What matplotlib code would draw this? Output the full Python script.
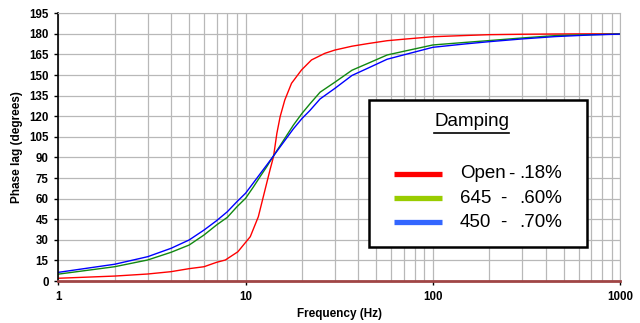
import matplotlib
matplotlib.use('Agg')
import matplotlib.pyplot as plt
from matplotlib.patches import Rectangle
from matplotlib.ticker import FixedLocator, NullFormatter
from matplotlib import font_manager

# valores
freq_open = [1, 2, 3, 4, 5, 6, 7, 7.8, 9.1, 10.6, 11.7, 12.7, 13.5, 14.1, 14.7, 15.3,
             16.2, 17.6, 19.9, 22.5, 26.5, 30, 37, 45, 57, 70, 100, 150, 200, 300,
             450, 700, 1000]
lag_open = [2.0, 3.6, 5.1, 6.8, 9.0, 10.4, 13.6, 15.3, 21.3, 32.3, 46.8, 66.3, 80.8, 90.5,
            107.6, 119.7, 131.8, 144.0, 153.7, 161.0, 165.8, 168.2, 171.0, 172.9, 175.0,
            176.1, 177.9, 178.8, 179.4, 179.7, 179.9, 180.0, 180.0]

freq = [1, 2, 3, 4, 5, 6, 7, 8, 9, 10, 11, 12, 13, 14, 15, 16, 18, 20, 22, 25,
        30, 37, 45, 57, 70, 100, 150, 200, 300, 450, 700, 1000]
lag_645 = [5.0, 10.4, 15.3, 20.9, 26.2, 33.5, 40.8, 46.4, 54.1, 60.2, 68.4, 76.3, 83.4, 90.5,
           96.8, 102.7, 113.5, 122.0, 128.8, 137.5, 144.8, 153.5, 158.5, 164.6, 167.3,
           171.9, 173.8, 175.1, 177.0, 178.7, 179.4, 179.9]
lag_450 = [6.3, 12.2, 17.7, 23.8, 29.9, 37.1, 43.9, 50.5, 57.8, 63.9, 71.4, 78.3, 84.6, 90.5,
           96.1, 101.3, 110.8, 118.3, 124.0, 132.6, 140.3, 149.7, 155.0, 161.5, 164.7,
           170.2, 172.7, 174.3, 176.3, 178.0, 179.2, 179.8]

names = ['Open', '645', '450']
damping = ['.18%', '.60%', '.70%']
line_colors = ['#ff0000', '#118811', '#0000ff']
key_colors = ['#ff0000', '#99cc00', '#3366ff']

y_ticks = list(range(0, 196, 15))
x_major = [1, 10, 100, 1000]
x_minor = [m * d for d in (1, 10, 100) for m in range(2, 10)]

# fuente estrecha si existe, si no Liberation Sans un poco mas chica
installed = {f.name for f in font_manager.fontManager.ttflist}
if 'Liberation Sans Narrow' in installed:
    key_font, key_size = 'Liberation Sans Narrow', 15
else:
    key_font, key_size = 'Liberation Sans', 13.5

fig = plt.figure(figsize=(6.4, 3.23), dpi=100)
ax = fig.add_axes([0.091, 0.130, 0.878, 0.829])

ax.set_xscale('log')
ax.set_xlim(1, 1000)
ax.set_ylim(0, 195)

ax.xaxis.set_major_locator(FixedLocator(x_major))
ax.xaxis.set_minor_locator(FixedLocator(x_minor))
ax.xaxis.set_minor_formatter(NullFormatter())
ax.set_xticks(x_major)
ax.set_xticklabels([str(v) for v in x_major])
ax.set_yticks(y_ticks)
ax.grid(True, which='both', color='#b8b8b8', linewidth=0.9)
ax.set_axisbelow(True)
ax.tick_params(axis='x', which='minor', length=0)
ax.tick_params(axis='both', which='major', length=3, width=1, labelsize=8.3, pad=4)
for lab in ax.get_xticklabels() + ax.get_yticklabels():
    lab.set_fontweight('bold')
    lab.set_fontfamily('Liberation Sans')

for s in ('top', 'right'):
    ax.spines[s].set_color('#b8b8b8')
ax.spines['left'].set_linewidth(1.2)
ax.spines['bottom'].set_color('#a04545')
ax.spines['bottom'].set_linewidth(2)

ax.plot(freq_open, lag_open, color=line_colors[0], linewidth=1.0)
ax.plot(freq, lag_645, color=line_colors[1], linewidth=1.0)
ax.plot(freq, lag_450, color=line_colors[2], linewidth=1.0)

ax.set_xlabel('Frequency (Hz)', fontsize=8.5, fontweight='bold', family='Liberation Sans', labelpad=4)
ax.set_ylabel('Phase lag (degrees)', fontsize=8.5, fontweight='bold', family='Liberation Sans', labelpad=4)

# cuadro de leyenda dibujado a mano
ax.add_patch(Rectangle((0.553, 0.127), 0.388, 0.549, transform=ax.transAxes,
                       facecolor='white', edgecolor='black', linewidth=1.8, zorder=5))
title = ax.text(0.736, 0.594, 'Damping', transform=ax.transAxes, ha='center', va='center',
                fontsize=key_size, family=key_font, zorder=6)
key_y = [0.400, 0.309, 0.219]
dash_x = [0.8015, 0.786, 0.786]
for n, d, c, yy, dx in zip(names, damping, key_colors, key_y, dash_x):
    ax.plot([0.597, 0.683], [yy, yy], transform=ax.transAxes, color=c, linewidth=3.8,
            solid_capstyle='butt', zorder=6)
    ax.text(0.715, yy, n, transform=ax.transAxes, ha='left', va='center',
            fontsize=key_size, family=key_font, zorder=6)
    ax.text(dx, yy, '-', transform=ax.transAxes, ha='left', va='center',
            fontsize=key_size, family=key_font, zorder=6)
    ax.text(0.820, yy, d, transform=ax.transAxes, ha='left', va='center',
            fontsize=key_size, family=key_font, zorder=6)

# subrayado del titulo segun su ancho real
fig.canvas.draw()
bb = title.get_window_extent().transformed(ax.transAxes.inverted())
ax.plot([bb.x0, bb.x1], [0.552, 0.552], transform=ax.transAxes, color='black',
        linewidth=1.2, zorder=6)

fig.savefig('out.png', dpi=100)
